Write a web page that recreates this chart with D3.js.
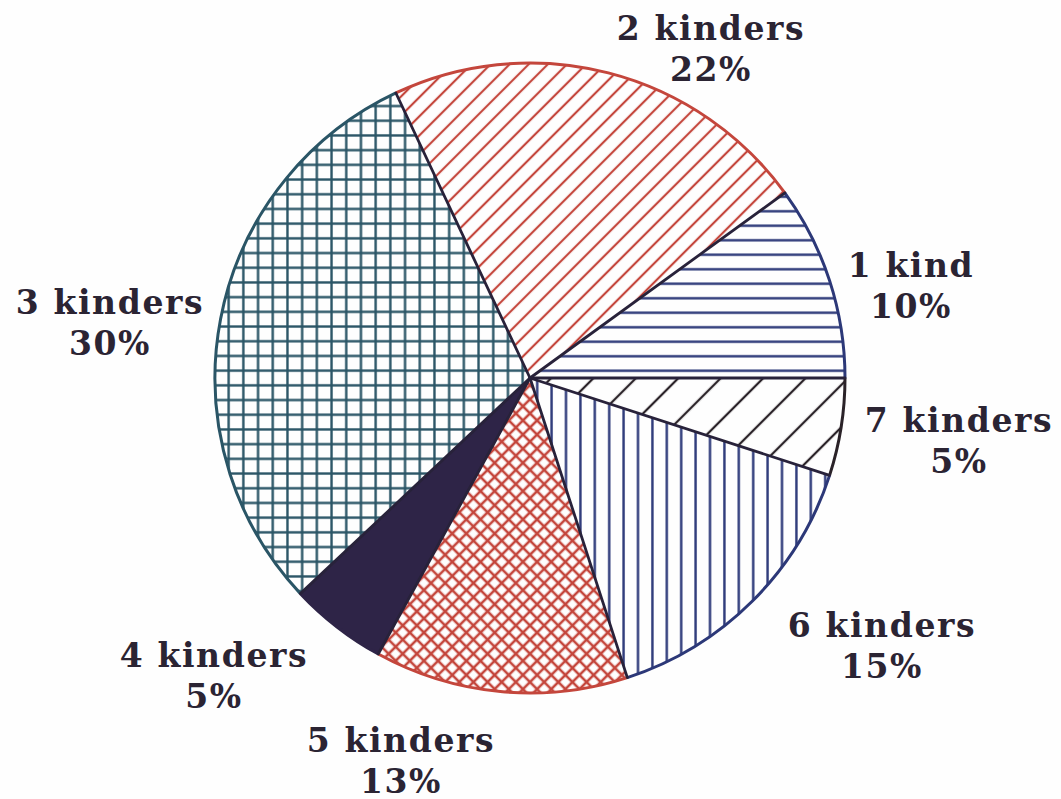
<!DOCTYPE html>
<html>
<head>
<meta charset="utf-8">
<script src="https://cdn.jsdelivr.net/npm/d3@7"></script>
<style>
  html, body { margin: 0; padding: 0; background: #fefefe; }
  svg { display: block; }
  .lbl { font-family: "DejaVu Serif", serif; font-weight: bold; font-size: 33px; letter-spacing: 1.6px; fill: #2b2433; }
</style>
</head>
<body>
<svg id="chart" width="1061" height="799"></svg>
<script>
// Gezinsgrootte: aandeel per aantal kinderen
const categories = ["1 kind", "2 kinders", "3 kinders", "4 kinders", "5 kinders", "6 kinders", "7 kinders"];
const shares = [10, 22, 30, 5, 13, 15, 5];

// Fill style for each slice (same order as categories)
const fills = [
  { kind: "h",     color: "#2c3878", gap: 14.5, w: 2.4 },
  { kind: "diag",  color: "#c4463c", gap: 13.5, w: 2.2 },
  { kind: "grid",  color: "#2a5566", gap: 14.7, w: 2.4 },
  { kind: "solid", color: "#2e2447" },
  { kind: "cross", color: "#c4463c", gap: 10,   w: 2.6 },
  { kind: "v",     color: "#2c3878", gap: 14.4, w: 2.4 },
  { kind: "diag",  color: "#2a2228", gap: 30,   w: 2.3 }
];

// Label block centres, relative to the pie centre
const labelOffsets = [
  [381, -93], [181, -330], [-420, -56], [-316, 297], [-129, 382], [352, 267], [429, 62]
];

const width = 1061, height = 799;
const cx = 530, cy = 378, radius = 315;

const svg = d3.select("#chart");
const defs = svg.append("defs");

fills.forEach((f, i) => {
  if (f.kind === "solid") return;
  const id = "pat" + i;
  const g = f.gap;
  const p = defs.append("pattern")
    .attr("id", id)
    .attr("patternUnits", "userSpaceOnUse")
    .attr("width", g).attr("height", g);
  if (f.kind === "diag" || f.kind === "cross") p.attr("patternTransform", "rotate(-45)");
  const line = (x1, y1, x2, y2) => p.append("line")
    .attr("x1", x1).attr("y1", y1).attr("x2", x2).attr("y2", y2)
    .attr("stroke", f.color).attr("stroke-width", f.w);
  if (f.kind === "h" || f.kind === "diag") {
    line(0, g / 2, g, g / 2);
  } else if (f.kind === "v") {
    line(g / 2, 0, g / 2, g);
  } else if (f.kind === "grid" || f.kind === "cross") {
    line(0, g / 2, g, g / 2);
    line(g / 2, 0, g / 2, g);
  }
});

// Slices run counter-clockwise from three o'clock: lay them out clockwise in reverse order
const order = d3.range(categories.length).reverse();
const pie = d3.pie()
  .sort(null)
  .value(i => shares[i])
  .startAngle(Math.PI / 2)
  .endAngle(Math.PI / 2 + 2 * Math.PI);
const arcs = pie(order);

const arcGen = d3.arc().innerRadius(0).outerRadius(radius);

const g = svg.append("g").attr("transform", `translate(${cx},${cy})`);

// pattern fills
g.selectAll("path.slice")
  .data(arcs)
  .join("path")
  .attr("class", "slice")
  .attr("d", arcGen)
  .attr("fill", d => fills[d.data].kind === "solid" ? fills[d.data].color : `url(#pat${d.data})`)
  .attr("stroke", "none");

// coloured rim for every slice
g.selectAll("path.rim")
  .data(arcs)
  .join("path")
  .attr("class", "rim")
  .attr("d", d => {
    const a0 = d.startAngle - Math.PI / 2, a1 = d.endAngle - Math.PI / 2;
    const p = d3.path();
    p.arc(0, 0, radius, a0, a1, false);
    return p.toString();
  })
  .attr("fill", "none")
  .attr("stroke", d => fills[d.data].color)
  .attr("stroke-width", 3);

// dark dividing spokes between slices
g.selectAll("line.spoke")
  .data(arcs)
  .join("line")
  .attr("class", "spoke")
  .attr("x1", 0).attr("y1", 0)
  .attr("x2", d => radius * Math.sin(d.startAngle))
  .attr("y2", d => -radius * Math.cos(d.startAngle))
  .attr("stroke", "#28223a")
  .attr("stroke-width", 2.8)
  .attr("stroke-linecap", "round");

// labels: name on the first line, percentage below
const lineGap = 41;
const labels = g.selectAll("text.lbl")
  .data(categories.map((c, i) => ({ name: c, pct: shares[i] + "%", off: labelOffsets[i] })))
  .join("text")
  .attr("class", "lbl")
  .attr("text-anchor", "middle")
  .attr("transform", d => `translate(${d.off[0]},${d.off[1]})`);
labels.append("tspan").attr("x", 0).attr("y", -lineGap / 2 + 12).text(d => d.name);
labels.append("tspan").attr("x", 0).attr("y", lineGap / 2 + 12).text(d => d.pct);
</script>
</body>
</html>
